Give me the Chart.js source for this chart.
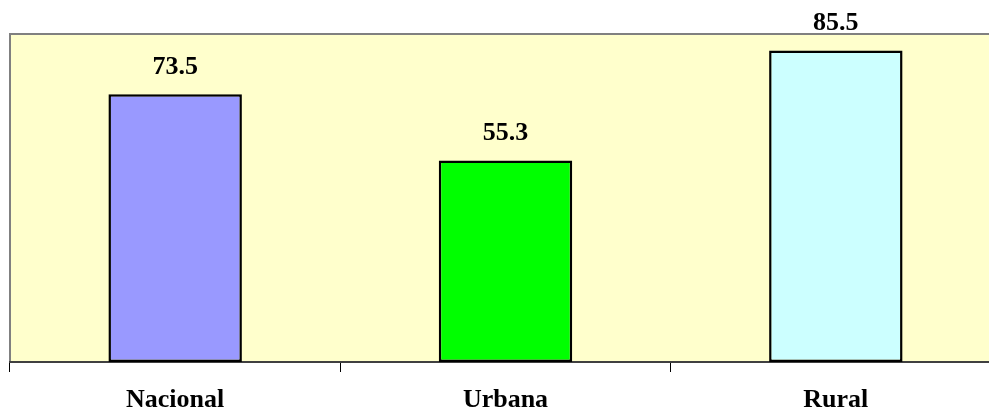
<!DOCTYPE html>
<html>
<head>
<meta charset="utf-8">
<script src="https://cdn.jsdelivr.net/npm/chart.js@4/dist/chart.umd.min.js"></script>
<style>
html,body{margin:0;padding:0;background:#fff;overflow:hidden;width:989px;height:412px;}
#wrap{position:absolute;left:0;top:0;width:1001px;height:412px;}
</style>
</head>
<body>
<div id="wrap"><canvas id="c"></canvas></div>
<script>
const categories = ["Nacional", "Urbana", "Rural"];
const values = [73.5, 55.3, 85.5];
const barColors = ["#9999FF", "#00FF00", "#CCFFFF"];

const plotBg = {
  id: 'plotBg',
  beforeDraw(chart) {
    const {ctx, chartArea: a} = chart;
    ctx.save();
    ctx.fillStyle = '#FFFFCC';
    ctx.fillRect(a.left, a.top, a.right - a.left, a.bottom - a.top);
    ctx.strokeStyle = '#808080';
    ctx.lineWidth = 2;
    ctx.beginPath();
    ctx.moveTo(a.left, a.bottom);
    ctx.lineTo(a.left, a.top);
    ctx.lineTo(a.right + 2, a.top);
    ctx.stroke();
    ctx.restore();
  }
};

const valueLabels = {
  id: 'valueLabels',
  afterDatasetsDraw(chart) {
    const {ctx} = chart;
    const meta = chart.getDatasetMeta(0);
    ctx.save();
    ctx.font = 'bold 26px "Liberation Serif", "Times New Roman", serif';
    ctx.fillStyle = '#000';
    ctx.textAlign = 'center';
    ctx.textBaseline = 'alphabetic';
    meta.data.forEach((bar, i) => {
      ctx.fillText(values[i].toFixed(1), bar.x, bar.y - 20);
    });
    ctx.restore();
  }
};

new Chart(document.getElementById('c'), {
  type: 'bar',
  data: {
    labels: categories,
    datasets: [{
      data: values,
      backgroundColor: barColors,
      borderColor: '#000',
      borderWidth: 2.5,
      borderSkipped: false,
      barPercentage: 0.404,
      categoryPercentage: 1.0
    }]
  },
  options: {
    responsive: true,
    maintainAspectRatio: false,
    animation: false,
    layout: {padding: {left: 10, top: 34, right: 0, bottom: 0}},
    plugins: {legend: {display: false}, tooltip: {enabled: false}},
    scales: {
      y: {display: false, min: 0, max: 90},
      x: {
        offset: true,
        afterFit(s) { s.height = 50; },
        grid: {offset: true, drawOnChartArea: false, tickLength: 10, color: '#000', lineWidth: 1},
        border: {display: true, color: '#404040', width: 2},
        ticks: {
          color: '#000',
          padding: 13,
          font: {family: '"Liberation Serif", "Times New Roman", serif', weight: 'bold', size: 26}
        }
      }
    }
  },
  plugins: [plotBg, valueLabels]
});
</script>
</body>
</html>
